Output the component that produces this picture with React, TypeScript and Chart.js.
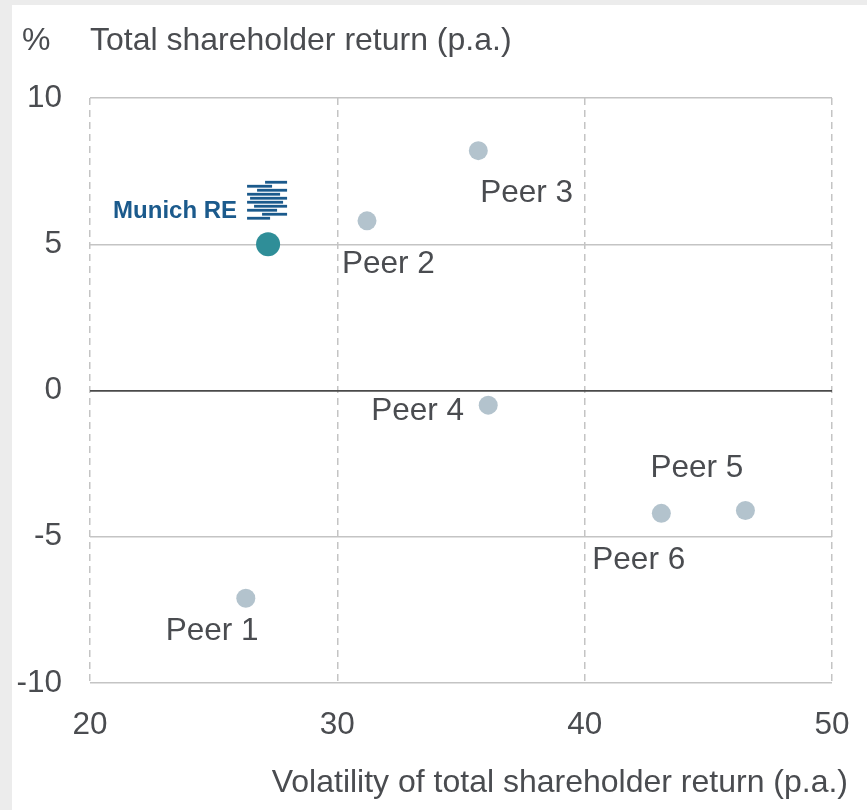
import React, { useEffect, useRef } from "react";
import { Chart, registerables } from "chart.js";

Chart.register(...registerables);

// ---- data ----
const peerNames = ["Peer 1", "Peer 2", "Peer 3", "Peer 4", "Peer 5", "Peer 6"];
const peerVolatility = [26.3, 31.2, 35.7, 36.1, 46.5, 43.1];
const peerReturn = [-7.1, 5.8, 8.2, -0.5, -4.1, -4.2];
const munichVolatility = [27.2];
const munichReturn = [5.0];
const xTicks = [20, 30, 40, 50];
const yTicks = [-10, -5, 0, 5, 10];
const yTitle = "Total shareholder return (p.a.)";
const yUnit = "%";
const xTitle = "Volatility of total shareholder return (p.a.)";
const logoText = "Munich RE";

// label placement (left x offset, baseline y offset) relative to each point
const labelOffsets: [number, number][] = [
  [-80, 42],
  [-25, 52],
  [2, 51],
  [-117, 15],
  [-95, -33],
  [-69, 56],
];

const FONT = '"Liberation Sans", Arial, sans-serif';
const TEXT = "#4a4c50";

const overlayPlugin = {
  id: "overlay",
  afterDraw(chart: any) {
    const { ctx, scales } = chart;
    const xs = scales.x;
    const ys = scales.y;
    ctx.save();
    // titles
    ctx.fillStyle = TEXT;
    ctx.font = `32px ${FONT}`;
    ctx.textBaseline = "alphabetic";
    ctx.textAlign = "left";
    ctx.fillText(yUnit, 10, 45);
    ctx.fillText(yTitle, 78, 45);
    ctx.textAlign = "right";
    ctx.fillText(xTitle, 836, 787);

    // peer labels
    ctx.font = `31.5px ${FONT}`;
    ctx.textAlign = "left";
    peerNames.forEach((name, i) => {
      const px = xs.getPixelForValue(peerVolatility[i]);
      const py = ys.getPixelForValue(peerReturn[i]);
      const [dx, dy] = labelOffsets[i];
      ctx.fillText(name, px + dx, py + dy);
    });

    // Munich RE logo
    const mx = xs.getPixelForValue(munichVolatility[0]);
    const my = ys.getPixelForValue(munichReturn[0]);
    ctx.fillStyle = "#1b5a8c";
    ctx.font = `bold 24px ${FONT}`;
    ctx.textAlign = "right";
    ctx.fillText(logoText, mx - 31, my - 26);
    // striped globe
    const stripes: [number, number, number][] = [
      [-62, -3, 19],
      [-58, -21, 4],
      [-54, -11, 19],
      [-50, -21, 12],
      [-46, -18, 19],
      [-42, -21, 15],
      [-38, -14, 19],
      [-34, -21, 9],
      [-30, -6, 19],
      [-26, -21, 2],
    ];
    stripes.forEach(([dy, x0, x1]) => {
      ctx.fillRect(mx + x0, my + dy - 1.4, x1 - x0, 2.8);
    });
    ctx.restore();
  },
};

export default function App() {
  const ref = useRef<HTMLCanvasElement | null>(null);

  useEffect(() => {
    if (!ref.current) return;
    const chart = new Chart(ref.current, {
      type: "scatter",
      data: {
        datasets: [
          {
            label: "Peers",
            data: peerVolatility.map((v, i) => ({ x: v, y: peerReturn[i] })),
            backgroundColor: "#b3c3cd",
            borderWidth: 0,
            pointRadius: 9.5,
            pointHoverRadius: 9.5,
          },
          {
            label: logoText,
            data: munichVolatility.map((v, i) => ({ x: v, y: munichReturn[i] })),
            backgroundColor: "#2f8e98",
            borderWidth: 0,
            pointRadius: 12,
            pointHoverRadius: 12,
          },
        ],
      },
      options: {
        responsive: false,
        animation: false,
        devicePixelRatio: 1,
        layout: { padding: { top: 93, right: 35, left: 0, bottom: 0 } },
        plugins: {
          legend: { display: false },
          tooltip: { enabled: false },
        },
        scales: {
          x: {
            type: "linear",
            min: xTicks[0],
            max: xTicks[xTicks.length - 1],
            afterBuildTicks: (s: any) => {
              s.ticks = xTicks.map((v) => ({ value: v }));
            },
            afterFit: (s: any) => {
              s.height = 127;
              s.paddingLeft = 0;
              s.paddingRight = 0;
            },
            grid: {
              color: "#c4c4c4",
              lineWidth: 1.5,
              drawTicks: false,
            },
            border: { display: false, dash: [7, 5] },
            ticks: {
              color: TEXT,
              font: { size: 31.5, family: FONT },
              padding: 23,
              maxRotation: 0,
            },
          },
          y: {
            type: "linear",
            min: yTicks[0],
            max: yTicks[yTicks.length - 1],
            afterBuildTicks: (s: any) => {
              s.ticks = yTicks.map((v) => ({ value: v }));
            },
            afterFit: (s: any) => {
              s.width = 78;
              s.paddingTop = 0;
              s.paddingBottom = 0;
            },
            grid: {
              color: (c: any) => (c.tick && c.tick.value === 0 ? "#4a4a4a" : "#c4c4c4"),
              lineWidth: (c: any) => (c.tick && c.tick.value === 0 ? 1.8 : 1.5),
              drawTicks: false,
            },
            border: { display: false },
            ticks: {
              color: TEXT,
              font: { size: 31.5, family: FONT },
              padding: 28,
            },
          },
        },
      },
      plugins: [overlayPlugin],
    });
    return () => chart.destroy();
  }, []);

  return (
    <div style={{ position: "fixed", inset: 0, background: "#ececec" }}>
      <div
        style={{
          position: "absolute",
          left: 12,
          top: 5,
          width: 855,
          height: 805,
          background: "#ffffff",
        }}
      >
        <canvas ref={ref} width={855} height={805} style={{ display: "block" }} />
      </div>
    </div>
  );
}
